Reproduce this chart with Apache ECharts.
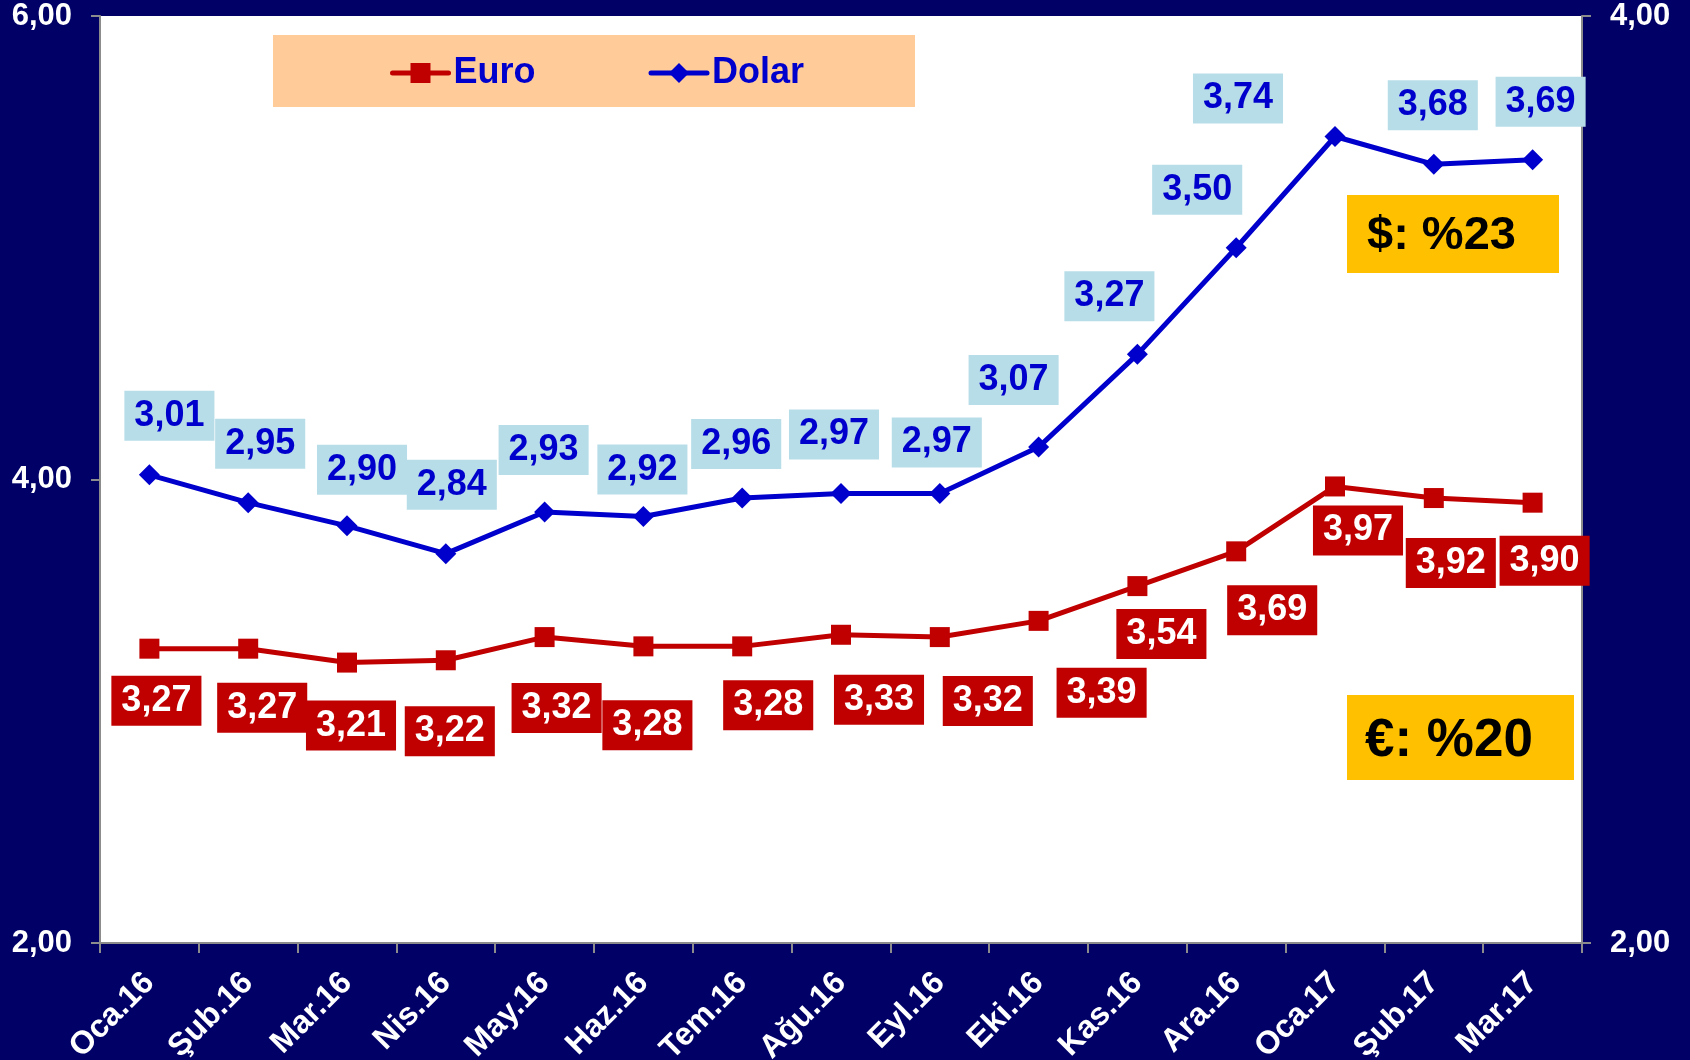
<!DOCTYPE html>
<html>
<head>
<meta charset="utf-8">
<script src="https://cdn.jsdelivr.net/npm/echarts@6/dist/echarts.min.js"></script>
<style>
html,body{margin:0;padding:0;background:#000066;}
#chart{width:1690px;height:1060px;}
</style>
</head>
<body>
<div id="chart"></div>
<script>
const categories = ['Oca.16','Şub.16','Mar.16','Nis.16','May.16','Haz.16','Tem.16','Ağu.16','Eyl.16','Eki.16','Kas.16','Ara.16','Oca.17','Şub.17','Mar.17'];
const euro  = [3.27,3.27,3.21,3.22,3.32,3.28,3.28,3.33,3.32,3.39,3.54,3.69,3.97,3.92,3.90];
const dolar = [3.01,2.95,2.90,2.84,2.93,2.92,2.96,2.97,2.97,3.07,3.27,3.50,3.74,3.68,3.69];
const leftTicks = [2, 6, 2];   // min, max, interval
const rightTicks = [2, 4, 2];  // min, max, interval
const noteDolar = '$: %23';
const noteEuro = '€: %20';

// label placement (style, relative offsets from each point)
const dolarLabelOffsets = [[20,-59],[12,-59],[15,-56],[6,-69],[-1,-62],[-1,-47],[-6,-54],[-7,-59],[-3,-51],[-25,-67],[-28,-58],[-39,-58],[-97,-38],[-1,-59],[8,-58]];
const euroLabelOffsets  = [[7,52],[14,59],[4,63],[4,71],[12,71],[4,79],[26,59],[38,65],[48,64],[63,72],[24,48],[36,59],[23,44],[17,65],[12,58]];

const FONT = '"Liberation Sans", Arial, sans-serif';
const fmt = v => Number(v).toFixed(2).replace('.', ',');
const diamond = 'path://M0,-1L1,0L0,1L-1,0Z';

function mkData(vals, offs) {
  return vals.map((v, i) => ({ value: v, label: { offset: offs[i] } }));
}

const chart = echarts.init(document.getElementById('chart'), null, {renderer: 'canvas'});
const option = {
  backgroundColor: '#000066',
  animation: false,
  grid: { left: 100, top: 16, right: 108, bottom: 117, show: true, backgroundColor: '#ffffff', borderWidth: 0, containLabel: false, outerBoundsMode: 'none' },
  legend: {
    left: 390, top: 55, padding: 0,
    itemWidth: 56, itemHeight: 25, itemGap: 113,
    lineStyle: { width: 5, cap: 'round' },
    textStyle: { color: '#0000CC', fontSize: 36, fontWeight: 'bold', fontFamily: FONT },
    data: ['Euro', 'Dolar']
  },
  xAxis: {
    type: 'category',
    data: categories,
    boundaryGap: true,
    axisLine: { lineStyle: { color: '#8c8c8c', width: 2 } },
    axisTick: { show: true, length: 10, lineStyle: { color: '#8c8c8c', width: 2 } },
    axisLabel: { color: '#ffffff', fontSize: 32, fontWeight: 'bold', fontFamily: FONT, rotate: 45, margin: 35, interval: 0 }
  },
  yAxis: [
    {
      type: 'value', position: 'left', min: leftTicks[0], max: leftTicks[1], interval: leftTicks[2],
      splitLine: { show: false },
      axisLine: { show: true, lineStyle: { color: '#8c8c8c', width: 2 } },
      axisTick: { show: true, length: 9, lineStyle: { color: '#8c8c8c', width: 2 } },
      axisLabel: { color: '#ffffff', fontSize: 31, fontWeight: 'bold', fontFamily: FONT, margin: 28, formatter: fmt }
    },
    {
      type: 'value', position: 'right', min: rightTicks[0], max: rightTicks[1], interval: rightTicks[2],
      splitLine: { show: false },
      axisLine: { show: true, lineStyle: { color: '#8c8c8c', width: 2 } },
      axisTick: { show: true, length: 9, lineStyle: { color: '#8c8c8c', width: 2 } },
      axisLabel: { color: '#ffffff', fontSize: 31, fontWeight: 'bold', fontFamily: FONT, margin: 28, formatter: fmt }
    }
  ],
  series: [
    {
      name: 'Euro', type: 'line', yAxisIndex: 0,
      data: mkData(euro, euroLabelOffsets),
      symbol: 'rect', symbolSize: 20,
      lineStyle: { color: '#C00000', width: 5 },
      itemStyle: { color: '#C00000' },
      label: {
        show: true, position: 'inside', formatter: p => fmt(p.value),
        color: '#ffffff', backgroundColor: '#C00000', fontSize: 36, fontWeight: 'bold', fontFamily: FONT,
        padding: [7, 10, 5, 10], lineHeight: 38, align: 'center', verticalAlign: 'middle'
      },
      z: 3
    },
    {
      name: 'Dolar', type: 'line', yAxisIndex: 1,
      data: mkData(dolar, dolarLabelOffsets),
      symbol: diamond, symbolSize: 21,
      lineStyle: { color: '#0000CC', width: 5 },
      itemStyle: { color: '#0000CC' },
      label: {
        show: true, position: 'inside', formatter: p => fmt(p.value),
        color: '#0000CC', backgroundColor: '#B7DDE8', fontSize: 36, fontWeight: 'bold', fontFamily: FONT,
        padding: [7, 10, 5, 10], lineHeight: 38, align: 'center', verticalAlign: 'middle'
      },
      z: 4
    }
  ],
  graphic: [
    { type: 'rect', left: 273, top: 35, z: 0, silent: true, shape: { width: 642, height: 72 }, style: { fill: '#FFCC99' } },
    { type: 'rect', left: 1347, top: 195, z: 10, silent: true, shape: { width: 212, height: 78 }, style: { fill: '#FFC000' } },
    { type: 'text', left: 1367, top: 213, z: 11, silent: true, style: { text: noteDolar, fill: '#000000', font: 'bold 47px ' + FONT } },
    { type: 'rect', left: 1347, top: 695, z: 10, silent: true, shape: { width: 227, height: 85 }, style: { fill: '#FFC000' } },
    { type: 'text', left: 1365, top: 715, z: 11, silent: true, style: { text: noteEuro, fill: '#000000', font: 'bold 53px ' + FONT } }
  ]
};
chart.setOption(option);
</script>
</body>
</html>
